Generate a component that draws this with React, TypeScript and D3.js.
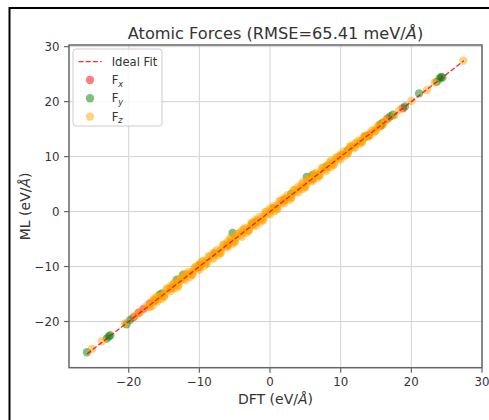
import React from 'react';
import * as d3 from 'd3';

// [DFT, ML] pairs, eV/Å
const fxPoints: [number, number][] = [
  [-19.3, -19.2], [-18.6, -18.4], [-17.9, -17.7], [-17.0, -16.7], [-16.3, -16.2],
  [-14.0, -13.9], [-10.0, -10.1], [-6.0, -6.1], [-2.0, -1.9], [2.0, 2.1],
  [6.0, 5.9], [10.0, 10.1], [14.0, 13.9], [15.7, 15.6], [16.6, 16.9], [18.8, 18.8],
];

const fyPoints: [number, number][] = [
  [-25.9, -25.6], [-23.1, -23.1], [-22.8, -22.7], [-22.6, -22.5], [-20.3, -20.5],
  [-19.8, -19.7], [-15.6, -15.1], [-15.3, -14.9], [-13.2, -12.4], [-12.3, -11.5],
  [-10.0, -9.8], [-7.8, -7.6], [-5.3, -3.9], [-2.5, -2.4], [0.5, 0.6],
  [3.0, 3.2], [5.2, 6.3], [6.0, 6.6], [8.0, 8.1], [11.0, 11.1],
  [13.5, 13.6], [15.6, 15.8], [15.9, 16.1], [17.0, 17.3], [17.4, 17.6],
  [19.1, 19.1], [21.1, 21.5], [23.6, 23.6], [24.0, 24.2], [24.4, 24.4], [24.2, 24.5],
];

const fzPoints: [number, number][] = [
  [-25.2, -25.0], [-23.8, -23.6], [-20.5, -20.3], [-19.1, -19.0], [-18.4, -18.3],
  [-17.5, -17.2], [-17.0, -17.3], [-16.5, -16.1], [-16.0, -16.4], [-15.5, -15.2],
  [-15.0, -15.5], [-14.5, -14.0], [-14.0, -14.4], [-13.5, -13.1], [-13.0, -13.6],
  [-12.5, -12.1], [-12.0, -12.4], [-11.5, -11.0], [-11.0, -11.5], [-10.5, -10.1],
  [-10.0, -10.6], [-9.5, -9.0], [-9.0, -9.5], [-8.5, -8.1], [-8.0, -8.6],
  [-7.5, -7.0], [-7.0, -7.6], [-6.5, -6.0], [-6.0, -6.5], [-5.5, -5.1],
  [-5.0, -5.6], [-4.5, -4.0], [-4.0, -4.6], [-3.5, -3.0], [-3.0, -3.5],
  [-2.5, -2.0], [-2.0, -2.6], [-1.5, -1.0], [-1.0, -1.6], [-0.5, 0.0],
  [0.0, -0.5], [0.5, 1.0], [1.0, 0.4], [1.5, 2.0], [2.0, 1.5],
  [2.5, 3.0], [3.0, 2.4], [3.5, 4.0], [4.0, 3.5], [4.5, 5.0],
  [5.0, 4.4], [5.5, 6.0], [6.0, 5.5], [6.5, 7.0], [7.0, 6.5],
  [7.5, 8.0], [8.0, 7.4], [8.5, 9.0], [9.0, 8.5], [9.5, 9.9],
  [10.0, 9.5], [10.5, 11.0], [11.0, 10.6], [11.5, 11.9], [12.0, 11.6],
  [12.5, 12.9], [13.0, 12.6], [13.5, 13.8], [14.0, 13.7], [14.5, 14.8],
  [15.0, 14.7], [15.5, 15.8], [16.0, 15.8], [16.5, 16.7], [17.6, 17.5],
  [18.3, 18.5], [20.0, 20.1], [22.2, 22.1], [23.3, 23.5], [27.35, 27.45],
  // denser core of the band
  [-17.2, -17.3], [-16.8, -16.6], [-16.2, -16.2], [-15.7, -15.8], [-15.2, -15.1],
  [-14.8, -14.9], [-14.2, -14.1], [-13.8, -13.9], [-13.2, -13.2], [-12.8, -12.7],
  [-12.2, -12.3], [-11.8, -11.7], [-11.2, -11.3], [-10.8, -10.7], [-10.2, -10.3],
  [-9.8, -9.7], [-9.2, -9.3], [-8.8, -8.7], [-8.2, -8.3], [-7.8, -7.7],
  [-7.2, -7.3], [-6.8, -6.7], [-6.2, -6.3], [-5.8, -5.7], [-5.2, -5.3],
  [-4.8, -4.7], [-4.2, -4.3], [-3.8, -3.7], [-3.2, -3.3], [-2.8, -2.7],
  [-2.2, -2.3], [-1.8, -1.7], [-1.2, -1.3], [-0.8, -0.7], [-0.2, -0.3],
  [0.2, 0.3], [0.8, 0.7], [1.2, 1.3], [1.8, 1.7], [2.2, 2.3],
  [2.8, 2.7], [3.2, 3.3], [3.8, 3.7], [4.2, 4.3], [4.8, 4.7],
  [5.2, 5.3], [5.8, 5.7], [6.2, 6.3], [6.8, 6.7], [7.2, 7.3],
  [7.8, 7.7], [8.2, 8.3], [8.8, 8.7], [9.2, 9.3], [9.8, 9.7],
  [10.2, 10.3], [10.8, 10.7], [11.2, 11.3], [11.8, 11.7], [12.2, 12.3],
  [12.8, 12.7], [13.2, 13.3], [13.8, 13.7], [14.2, 14.3], [14.8, 14.7],
  [15.2, 15.3], [-5.6, -4.8], [-3.7, -3.2], [4.7, 5.4], [6.3, 6.9],
  [-11.9, -11.3], [-9.6, -9.1], [8.6, 9.2], [11.4, 11.8], [-13.6, -13.0],
  // outer edges of the band
  [-16.65, -17.2], [-16.35, -15.8], [-15.35, -15.9], [-14.65, -14.1], [-13.35, -13.9],
  [-12.65, -12.1], [-11.35, -11.9], [-10.65, -10.1], [-9.35, -9.9], [-8.65, -8.1],
  [-7.35, -7.9], [-6.65, -6.1], [-5.35, -5.9], [-4.65, -4.1], [-3.35, -3.9],
  [-2.65, -2.1], [-1.35, -1.9], [-0.65, -0.1], [0.65, 0.1], [1.35, 1.9],
  [2.65, 2.1], [3.35, 3.9], [4.65, 4.1], [5.35, 5.9], [6.65, 6.1],
  [7.35, 7.9], [8.65, 8.1], [9.35, 9.8], [10.65, 10.2], [11.35, 11.8],
  [12.65, 12.3], [13.35, 13.7], [14.65, 14.4], [15.35, 15.6], [16.2, 16.4],
  [-16.0, -15.5], [-14.0, -13.5], [-12.0, -11.5], [-10.0, -9.5], [-8.0, -7.5],
  [-6.0, -5.5], [-4.0, -3.5], [-2.0, -1.5], [0.0, 0.5], [2.0, 2.5],
  [4.0, 4.5], [6.0, 6.4], [8.0, 8.4], [10.0, 10.4], [12.0, 12.4],
  [-15.0, -15.4], [-13.0, -13.4], [-11.0, -11.4], [-9.0, -9.4], [-7.0, -7.4],
  [-5.0, -5.4], [-3.0, -3.4], [-1.0, -1.4], [1.0, 0.6], [3.0, 2.6],
  [5.0, 4.6], [7.0, 6.6], [9.0, 8.6], [11.0, 10.6], [13.0, 12.7],
];

const xTicks = [-20, -10, 0, 10, 20, 30];
const yTicks = [-20, -10, 0, 10, 20, 30];

const series = [
  { key: 'x', points: fxPoints, color: '#ff0000' },
  { key: 'y', points: fyPoints, color: '#008000' },
  { key: 'z', points: fzPoints, color: '#ffa500' },
];

const FONT = 'DejaVu Sans, sans-serif';
const fmt = (v: number) => (v < 0 ? '\u2212' + Math.abs(v) : String(v));

export default function App() {
  const left = 69, right = 482, top = 45, bottom = 367.7;

  const x = d3.scaleLinear().domain([-28.45, 30]).range([left, right]);
  const y = d3.scaleLinear().domain([-28.4, 30.3]).range([bottom, top]);

  const all = [...fxPoints, ...fyPoints, ...fzPoints];
  const lo = d3.min(all, (d) => Math.min(d[0], d[1]))!;
  const hi = d3.max(all, (d) => Math.max(d[0], d[1]))!;
  const ideal = d3.line<number>().x((v) => x(v)).y((v) => y(v))([lo, hi])!;

  return (
    <svg
      width={489}
      height={420}
      style={{ position: 'absolute', left: 0, top: 0, background: '#fff' }}
      fontFamily={FONT}
    >
      {/* outer frame */}
      <line x1={9} x2={489} y1={8} y2={8} stroke="#000" strokeWidth={2} />
      <line x1={9.5} x2={9.5} y1={7} y2={420} stroke="#000" strokeWidth={2} />

      {/* grid */}
      {xTicks.map((t) => (
        <line key={'gx' + t} x1={x(t)} x2={x(t)} y1={top} y2={bottom} stroke="#d3d3d3" strokeWidth={1} />
      ))}
      {yTicks.map((t) => (
        <line key={'gy' + t} x1={left} x2={right} y1={y(t)} y2={y(t)} stroke="#d3d3d3" strokeWidth={1} />
      ))}

      {/* points */}
      {series.map((s) =>
        s.points.map((p, i) => (
          <circle key={s.key + i} cx={x(p[0])} cy={y(p[1])} r={4.2} fill={s.color} fillOpacity={0.5} />
        ))
      )}

      {/* ideal fit */}
      <path d={ideal} fill="none" stroke="#ff0000" strokeOpacity={0.85} strokeWidth={1.3} strokeDasharray="5,2.2" />

      {/* spines */}
      <rect x={left} y={top} width={right - left} height={bottom - top} fill="none" stroke="#666" strokeWidth={1.5} />

      {/* x axis */}
      {xTicks.map((t) => (
        <g key={'xt' + t}>
          <line x1={x(t)} x2={x(t)} y1={bottom} y2={bottom + 5} stroke="#666" strokeWidth={1.2} />
          <text x={x(t)} y={386} textAnchor="middle" fontSize={11.8} fill="#333">{fmt(t)}</text>
        </g>
      ))}
      {/* y axis */}
      {yTicks.map((t) => (
        <g key={'yt' + t}>
          <line x1={left - 5} x2={left} y1={y(t)} y2={y(t)} stroke="#666" strokeWidth={1.2} />
          <text x={59.5} y={y(t) + 4.2} textAnchor="end" fontSize={11.8} fill="#333">{fmt(t)}</text>
        </g>
      ))}

      {/* labels */}
      <text x={275.5} y={38.5} textAnchor="middle" fontSize={16.2} fill="#333">
        Atomic Forces (RMSE=65.41 meV/<tspan fontStyle="italic">Å</tspan>)
      </text>
      <text x={(left + right) / 2} y={404} textAnchor="middle" fontSize={14} fill="#333">
        DFT (eV/<tspan fontStyle="italic">Å</tspan>)
      </text>
      <text
        transform={`translate(30,${(top + bottom) / 2}) rotate(-90)`}
        textAnchor="middle"
        fontSize={14}
        fill="#333"
      >
        ML (eV/<tspan fontStyle="italic">Å</tspan>)
      </text>

      {/* legend */}
      <g>
        <rect x={73} y={49} width={89} height={77} rx={3} fill="#fff" fillOpacity={0.8} stroke="#cccccc" strokeWidth={1} />
        <line x1={78.5} x2={101.5} y1={61.7} y2={61.7} stroke="#ff0000" strokeOpacity={0.85} strokeWidth={1.3} strokeDasharray="5,2.2" />
        <text x={111.7} y={65.8} fontSize={11.6} fill="#333">Ideal Fit</text>
        {series.map((s, i) => {
          const cy = 80 + i * 18.3;
          return (
            <g key={'lg' + s.key}>
              <circle cx={90} cy={cy} r={4.2} fill={s.color} fillOpacity={0.5} />
              <text x={111.7} y={cy + 4} fontSize={11.6} fill="#333">
                F<tspan fontStyle="italic" fontSize={8.2} dy={2.5}>{s.key}</tspan>
              </text>
            </g>
          );
        })}
      </g>
    </svg>
  );
}
